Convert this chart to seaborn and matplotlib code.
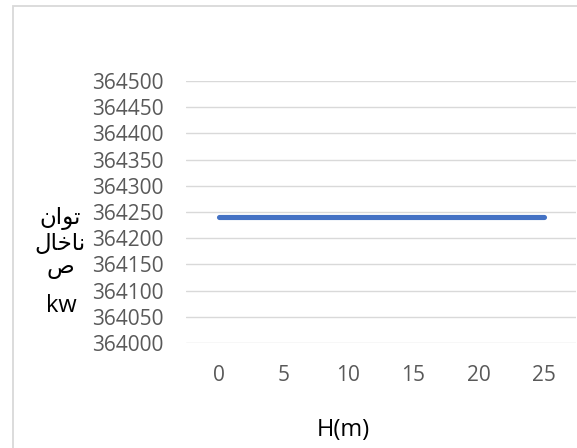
import matplotlib
matplotlib.use("Agg")
import matplotlib.pyplot as plt
import seaborn as sns
import pandas as pd
from matplotlib.patches import Rectangle

# data
heights = [0, 5, 10, 15, 20, 25]
power = [364240, 364240, 364240, 364240, 364240, 364240]
y_ticks = [364000, 364050, 364100, 364150, 364200, 364250, 364300, 364350, 364400, 364450, 364500]
x_ticks = [0, 5, 10, 15, 20, 25]
x_title = "H(m)"
# y title "توان ناخالص kw", wrapped as in the original; Arabic lines in
# presentation forms, visual order, since matplotlib does no shaping
y_title_lines = ["\uFEE5\uFE8D\uFEEE\uFE97", "\uFEDD\uFE8E\uFEA7\uFE8E\uFEE7", "\uFEB9"]
y_title_unit = "kw"

df = pd.DataFrame({"H": heights, "P": power})

sns.set_theme(style="white")
plt.rcParams["font.family"] = ["Open Sans", "DejaVu Sans"]

W, H = 577, 448
fig = plt.figure(figsize=(W / 100, H / 100), dpi=100)
ax = fig.add_axes([186 / W, 1 - 343 / H, (576 - 186) / W, (343 - 81) / H])

sns.lineplot(data=df, x="H", y="P", ax=ax, color="#4472C4", linewidth=3.7,
             solid_capstyle="round", legend=False)

ax.set_xlim(-2.5, 27.5)
ax.set_ylim(y_ticks[0], y_ticks[-1])
ax.set_yticks(y_ticks)
ax.set_xticks(x_ticks)
ax.set_yticklabels([str(v) for v in y_ticks])
ax.grid(axis="y", color="#D9D9D9", linewidth=1.0)
ax.grid(axis="x", visible=False)
ax.set_axisbelow(True)
for s in ax.spines.values():
    s.set_visible(False)
ax.tick_params(axis="y", length=0, pad=16, labelsize=15, labelcolor="#595959")
ax.tick_params(axis="x", length=0, pad=16, labelsize=15, labelcolor="#595959")
ax.set_xlabel("")
ax.set_ylabel("")

# axis titles
fig.text(343 / W, 1 - 430 / H, x_title, ha="center", va="center", fontsize=17, color="black")
for txt, yc in zip(y_title_lines, [218, 243, 267]):
    fig.text(60 / W, 1 - yc / H, txt, ha="center", va="center", fontsize=16.5,
             color="black", family=["DejaVu Sans"])
fig.text(61 / W, 1 - 306 / H, y_title_unit, ha="center", va="center", fontsize=17, color="black")

# chart frame (right and bottom edges fall outside the picture)
fig.patches.append(Rectangle((12.5 / W, -0.05), 0.99, 1.05 - 6.5 / H,
                             transform=fig.transFigure, fill=False,
                             edgecolor="#D9D9D9", linewidth=1.3))

fig.savefig("out.png", dpi=100)
